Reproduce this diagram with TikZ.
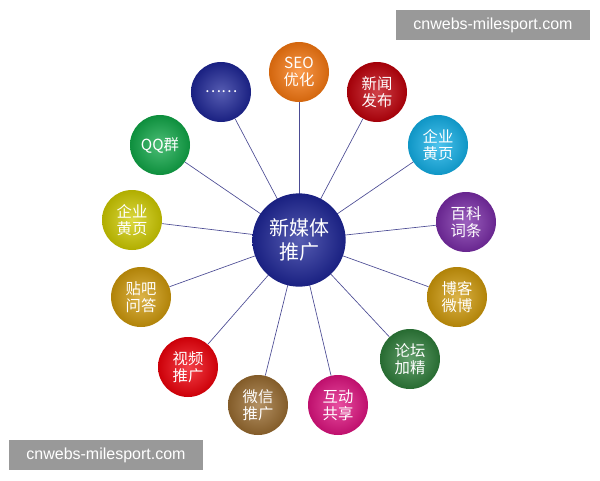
\documentclass[tikz,border=0pt]{standalone}
\usepackage{fontspec}
\newfontfamily\cjk{Noto Sans CJK SC}
\setsansfont{Liberation Sans}
\begin{document}
\begin{tikzpicture}[x=0.75pt,y=-0.75pt,
  ballnode/.style={circle,minimum size=45pt,inner sep=0pt,shading=radial,inner color=#1!75!white,outer color=#1!85!black,text=white,font=\cjk\fontsize{11.5}{13}\selectfont,align=center},
  link/.style={draw=black!60!blue!70,line width=0.5pt},
  wmark/.style={fill=black!40,text=white,font=\sffamily\fontsize{12}{14}\selectfont,minimum width=145pt,minimum height=22pt,inner sep=0pt}]
\useasboundingbox (0,0) rectangle (600,480);
\definecolor{cOr}{HTML}{F87810}
\definecolor{cDr}{HTML}{C0000A}
\definecolor{cLb}{HTML}{12B0E8}
\definecolor{cPu}{HTML}{7A2CA8}
\definecolor{cGo}{HTML}{D09A0A}
\definecolor{cGr}{HTML}{2E7E3A}
\definecolor{cMa}{HTML}{E01280}
\definecolor{cBr}{HTML}{9A6C30}
\definecolor{cRe}{HTML}{F0000A}
\definecolor{cYg}{HTML}{D0CC00}
\definecolor{cQq}{HTML}{10A848}
\definecolor{cNv}{HTML}{1E2698}
\coordinate (cc) at (299,240);
\node[ballnode=cOr] (n1) at (299,72) {SEO\\优化};
\node[ballnode=cDr] (n2) at (377,92) {新闻\\发布};
\node[ballnode=cLb] (n3) at (438,145) {企业\\黄页};
\node[ballnode=cPu] (n4) at (466,222) {百科\\词条};
\node[ballnode=cGo] (n5) at (457,297) {博客\\微博};
\node[ballnode=cGr] (n6) at (410,359) {论坛\\加精};
\node[ballnode=cMa] (n7) at (338,405) {互动\\共享};
\node[ballnode=cBr] (n8) at (258,405) {微信\\推广};
\node[ballnode=cRe] (n9) at (188,367) {视频\\推广};
\node[ballnode=cGo] (n10) at (141,297) {贴吧\\问答};
\node[ballnode=cYg] (n11) at (132,220) {企业\\黄页};
\node[ballnode=cQq] (n12) at (160,145) {QQ群};
\node[ballnode=cNv] (n13) at (221,92) {……};
\foreach \i in {1,...,13}{\draw[link] (cc) -- (n\i);}
\node[ballnode=cNv,minimum size=70pt,font=\cjk\fontsize{15}{18}\selectfont] (c) at (cc) {新媒体\\推广};
\node[wmark] (w1) at (493,25) {cnwebs-milesport.com};
\node[wmark] (w2) at (106,455) {cnwebs-milesport.com};
\end{tikzpicture}
\end{document}
